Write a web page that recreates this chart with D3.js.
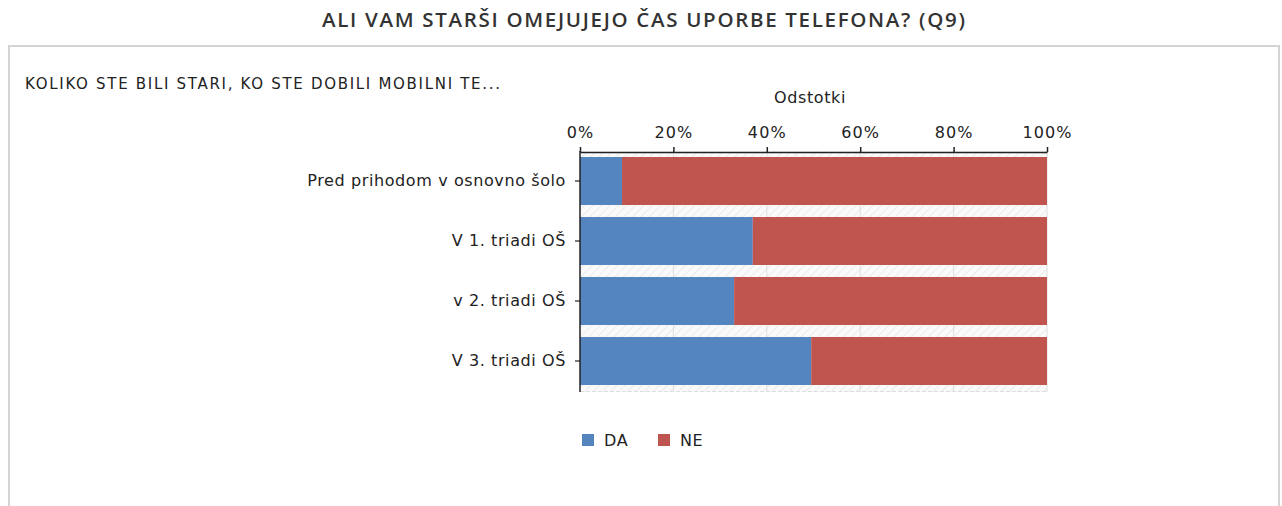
<!DOCTYPE html>
<html>
<head>
<meta charset="utf-8">
<script src="https://cdn.jsdelivr.net/npm/d3@7"></script>
<style>
  html, body { margin: 0; padding: 0; background: #fff; }
  svg { display: block; }
</style>
</head>
<body>
<svg id="chart" width="1282" height="506"></svg>
<script>
const chartTitle = "ALI VAM STARŠI OMEJUJEJO ČAS UPORBE TELEFONA? (Q9)";
const subTitle = "KOLIKO STE BILI STARI, KO STE DOBILI MOBILNI TE...";
const axisTitle = "Odstotki";
const categories = ["Pred prihodom v osnovno šolo", "V 1. triadi OŠ", "v 2. triadi OŠ", "V 3. triadi OŠ"];
const seriesNames = ["DA", "NE"];
const daValues = [9, 37, 33, 49.5];
const neValues = [91, 63, 67, 50.5];
const tickValues = [0, 20, 40, 60, 80, 100];
const colors = ["#5585bf", "#c0554f"];

const FONT = "'DejaVu Sans', Verdana, sans-serif";
const svg = d3.select("#chart");

// panel border
svg.append("path")
  .attr("d", "M9,506 V46 H1279 V506")
  .attr("fill", "none").attr("stroke", "#d4d4d4").attr("stroke-width", 2);

svg.append("text")
  .attr("x", 322).attr("y", 27)
  .attr("font-family", "'Open Sans', sans-serif")
  .attr("font-weight", 600)
  .attr("font-size", 20.5)
  .attr("fill", "#333")
  .attr("textLength", 643).attr("lengthAdjust", "spacing")
  .text(chartTitle);

svg.append("text")
  .attr("x", 25).attr("y", 89)
  .attr("font-family", FONT)
  .attr("font-size", 15)
  .attr("fill", "#222")
  .attr("textLength", 475).attr("lengthAdjust", "spacing")
  .text(subTitle);

const x = d3.scaleLinear().domain([0, 100]).range([580, 1047]);
const y = d3.scaleBand().domain(categories).range([151, 391]).paddingInner(0.2).paddingOuter(0.1);

// hatch pattern
const defs = svg.append("defs");
const pat = defs.append("pattern").attr("id", "hatch").attr("patternUnits", "userSpaceOnUse")
  .attr("width", 6).attr("height", 6).attr("patternTransform", "rotate(45)");
pat.append("rect").attr("width", 6).attr("height", 6).attr("fill", "#fafafa");
pat.append("line").attr("x1", 0).attr("y1", 0).attr("x2", 0).attr("y2", 6)
  .attr("stroke", "#e6e6e6").attr("stroke-width", 1.5);

svg.append("rect").attr("x", x(0)).attr("y", 151).attr("width", x(100) - x(0)).attr("height", 241)
  .attr("fill", "url(#hatch)");

// vertical gridlines
svg.append("g").selectAll("line").data(tickValues.slice(1)).join("line")
  .attr("x1", d => x(d)).attr("x2", d => x(d)).attr("y1", 151).attr("y2", 392)
  .attr("stroke", "#dedede").attr("stroke-width", 1);
svg.append("line").attr("x1", x(0)).attr("x2", x(100)).attr("y1", 391.5).attr("y2", 391.5)
  .attr("stroke", "#dedede").attr("stroke-dasharray", "4,2");

// bars
const stackData = categories.map((c, i) => ({cat: c, DA: daValues[i], NE: neValues[i]}));
const stack = d3.stack().keys(seriesNames)(stackData);
svg.append("g").selectAll("g").data(stack).join("g")
  .attr("fill", (d, i) => colors[i])
  .selectAll("rect").data(d => d).join("rect")
  .attr("x", d => x(d[0]))
  .attr("width", d => x(d[1]) - x(d[0]))
  .attr("y", d => y(d.data.cat))
  .attr("height", y.bandwidth());

// top axis
const xAxis = svg.append("g").attr("transform", "translate(0,152)")
  .call(d3.axisTop(x).tickValues(tickValues).tickFormat(d => d + "%").tickSize(5).tickSizeOuter(0));
xAxis.select(".domain").attr("stroke", "#222").attr("stroke-width", 1.5);
xAxis.selectAll(".tick line").attr("stroke", "#222").attr("stroke-width", 1.5);
xAxis.selectAll("text").attr("font-family", FONT).attr("font-size", 16)
  .attr("letter-spacing", 1.1)
  .attr("fill", "#222").attr("dy", "-6");

// left axis
const yAxis = svg.append("g").attr("transform", "translate(580,0)")
  .call(d3.axisLeft(y).tickSize(5).tickSizeOuter(0).tickPadding(9));
yAxis.select(".domain").attr("stroke", "#222").attr("stroke-width", 1.5)
  .attr("d", "M0,151V392");
yAxis.selectAll(".tick line").attr("stroke", "#222").attr("stroke-width", 1.2);
yAxis.selectAll("text").attr("font-family", FONT).attr("font-size", 16)
  .attr("letter-spacing", 0.6)
  .attr("fill", "#222");

svg.append("text")
  .attr("x", 810).attr("y", 103)
  .attr("text-anchor", "middle")
  .attr("font-family", FONT)
  .attr("font-size", 16).attr("letter-spacing", 0.6).attr("fill", "#222")
  .text(axisTitle);

// legend
const legendX = [582, 658];
const lg = svg.append("g").selectAll("g").data(seriesNames).join("g")
  .attr("transform", (d, i) => `translate(${legendX[i]},434)`);
lg.append("rect").attr("width", 12).attr("height", 12).attr("fill", (d, i) => colors[i]);
lg.append("text").attr("x", 22).attr("y", 12)
  .attr("font-family", FONT).attr("font-size", 16).attr("letter-spacing", 0.6).attr("fill", "#222")
  .text(d => d);
</script>
</body>
</html>
